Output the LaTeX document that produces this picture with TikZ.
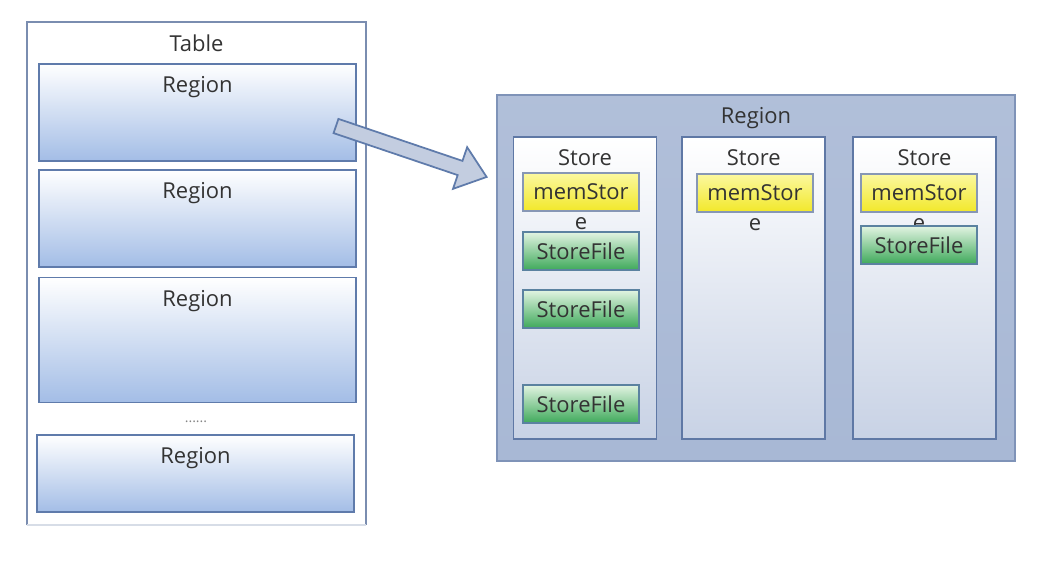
\documentclass[tikz,border=0pt]{standalone}
\usepackage{fontspec}
\setmainfont{Open Sans}
\usetikzlibrary{positioning}

\definecolor{txtgrey}{HTML}{333333}
\definecolor{tableline}{HTML}{7A8DB0}
\definecolor{regionline}{HTML}{5F7BAB}
\definecolor{regionblue}{HTML}{A3BDE6}
\definecolor{bigfill}{HTML}{A8B8D5}
\definecolor{bigline}{HTML}{7F93B8}
\definecolor{storeline}{HTML}{5F78A5}
\definecolor{storefill}{HTML}{C8D2E5}
\definecolor{memtop}{HTML}{FBF8A0}
\definecolor{membot}{HTML}{F2E82A}
\definecolor{memline}{HTML}{8797B5}
\definecolor{filetop}{HTML}{E2F4E2}
\definecolor{filebot}{HTML}{3FA95B}
\definecolor{fileline}{HTML}{5B82A0}
\definecolor{arrowfill}{HTML}{C3CDE0}

\tikzset{
  lbl/.style={text=txtgrey, font=\fontsize{12.5}{14}\selectfont},
  regionbox/.style={draw=regionline, line width=1pt, top color=white, bottom color=regionblue,
    minimum width=6.34cm, minimum height=#1,
    label={[lbl, anchor=north, inner sep=2pt, yshift=-5.5pt]north:Region}},
  storebox/.style={draw=storeline, line width=1pt, top color=white, bottom color=storefill,
    minimum width=2.86cm, minimum height=6.04cm,
    label={[lbl, anchor=north, inner sep=2pt, yshift=-5.5pt]north:Store}},
  memstore/.style={draw=memline, line width=1pt, top color=memtop, bottom color=membot,
    minimum width=2.32cm, minimum height=0.76cm, inner sep=0pt, lbl,
    label={[lbl, inner sep=0pt, label distance=3pt]below:e}},
  storefile/.style={draw=fileline, line width=1pt, top color=filetop, bottom color=filebot,
    minimum width=2.32cm, minimum height=0.76cm, inner sep=0pt, lbl}
}

\begin{document}
\begin{tikzpicture}[x=0.02cm, y=-0.02cm]
  \useasboundingbox (0,0) rectangle (1050,562);

  % table with its regions
  \node[minimum width=6.78cm, minimum height=10.06cm] (table) at (196.5,273.5) {};
  \draw[tableline, line width=1pt] (table.south west) -- (table.north west)
    -- (table.north east) -- (table.south east);
  \draw[tableline!30, line width=1pt] (table.south west) -- (table.south east);
  \node[lbl, anchor=north, inner sep=2pt, yshift=-5.5pt] (tablelbl) at (table.north) {Table};

  \node[regionbox=1.94cm] (reg1) at (197.5,112.5) {};
  \node[regionbox=1.94cm, below=0.14cm of reg1] (reg2) {};
  \node[regionbox=2.5cm, below=0.18cm of reg2] (reg3) {};
  \node[text=txtgrey!60, font=\fontsize{8}{9}\selectfont] (dots) at (196,422) {......};
  \node[regionbox=1.54cm] (reg4) at (195.5,473.5) {};

  % the region in detail
  \node[draw=bigline, line width=1pt, top color=bigfill!90, bottom color=bigfill,
    minimum width=10.36cm, minimum height=7.32cm,
    label={[lbl, anchor=north, inner sep=2pt, yshift=-5.5pt]north:Region}] (bigreg) at (756,278) {};

  \node[storebox] (store1) at (585,288) {};
  \node[storebox, right=0.48cm of store1] (store2) {};
  \node[storebox, right=0.52cm of store2] (store3) {};

  \node[memstore] (mem1) at (581,192) {memStor};
  \node[memstore] (mem2) at (755,193) {memStor};
  \node[memstore] (mem3) at (919,193) {memStor};

  \node[storefile] (file1) at (581,251) {StoreFile};
  \node[storefile] (file2) at (581,309) {StoreFile};
  \node[storefile] (file3) at (581,404) {StoreFile};
  \node[storefile] (file4) at (919,245) {StoreFile};

  % block arrow
  \coordinate (arrowtail) at (336,126);
  \begin{scope}[shift={(arrowtail)}, rotate=-18.7]
    \draw[regionline, line width=1pt, fill=arrowfill, line join=miter]
      (0,-7.5) -- (131,-7.5) -- (131,-22) -- (159,0) -- (131,22) -- (131,7.5) -- (0,7.5) -- cycle;
  \end{scope}
\end{tikzpicture}
\end{document}
